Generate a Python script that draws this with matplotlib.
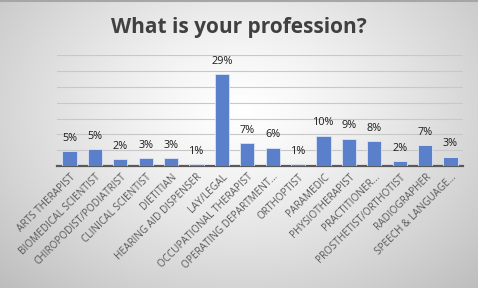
import numpy as np
import matplotlib
matplotlib.use('Agg')
from matplotlib import pyplot as plt

# data
professions = ['ARTS THERAPIST', 'BIOMEDICAL SCIENTIST', 'CHIROPODIST/PODIATRIST',
               'CLINICAL SCIENTIST', 'DIETITIAN', 'HEARING AID DISPENSER', 'LAY/LEGAL',
               'OCCUPATIONAL THERAPIST', 'OPERATING DEPARTMENT…', 'ORTHOPTIST',
               'PARAMEDIC', 'PHYSIOTHERAPIST', 'PRACTITIONER…', 'PROSTHETIST/ORTHOTIST',
               'RADIOGRAPHER', 'SPEECH & LANGUAGE…']
share = [4.7, 5.3, 2.1, 2.5, 2.5, 0.6, 29.0, 7.2, 5.7, 0.6, 9.6, 8.7, 7.8, 1.5, 6.6, 2.9]
share_labels = ['5%', '5%', '2%', '3%', '3%', '1%', '29%', '7%', '6%', '1%',
                '10%', '9%', '8%', '2%', '7%', '3%']

plt.rcParams['font.family'] = ['Open Sans', 'DejaVu Sans']

fig = plt.figure(figsize=(4.78, 2.88), dpi=100)

# latar gradasi radial
bg = fig.add_axes([0, 0, 1, 1], zorder=-10)
yy, xx = np.mgrid[0:288, 0:478]
r = np.sqrt(((xx - 240) / 300.0) ** 2 + ((yy - 110) / 220.0) ** 2)
shade = np.clip(1.0 - 0.22 * r ** 1.3, 0, 1)
bg.imshow(np.dstack([shade, shade, shade]), aspect='auto', extent=[0, 1, 0, 1])
bg.axhline(0.997, color='#A6A6A6', lw=1.5)
bg.axis('off')

ax = fig.add_axes([0.119, 0.4236, 0.85, 0.384])
ax.patch.set_alpha(0)
x = np.arange(len(professions))
bars = ax.bar(x, share, width=0.56, color='#5A7FCB', edgecolor='#DCE4F4', linewidth=0.6, zorder=3)
for b, lab in zip(bars, share_labels):
    ax.text(b.get_x() + b.get_width() / 2, b.get_height() + 2.4, lab,
            ha='center', va='bottom', fontsize=7.8, color='#1a1a1a', zorder=4)

ax.set_ylim(0, 35)
ax.set_xlim(-0.5, len(professions) - 0.5)
ax.set_yticks(np.arange(0, 36, 5))
ax.set_yticklabels([])
ax.tick_params(axis='y', length=0)
ax.grid(axis='y', color='#C8C8C8', lw=0.8, zorder=0)
for s in ['top', 'right', 'left']:
    ax.spines[s].set_visible(False)
ax.spines['bottom'].set_color('#595959')
ax.spines['bottom'].set_linewidth(1.6)

ax.set_xticks(x)
ax.set_xticklabels(professions, rotation=45, ha='right', rotation_mode='anchor',
                   fontsize=7.2, color='#595959')
ax.tick_params(axis='x', length=0, pad=4)

fig.text(0.5, 0.905, 'What is your profession?', ha='center', va='center',
         fontsize=15, fontweight='bold', color='#404040')

fig.savefig('out.png', dpi=100)
